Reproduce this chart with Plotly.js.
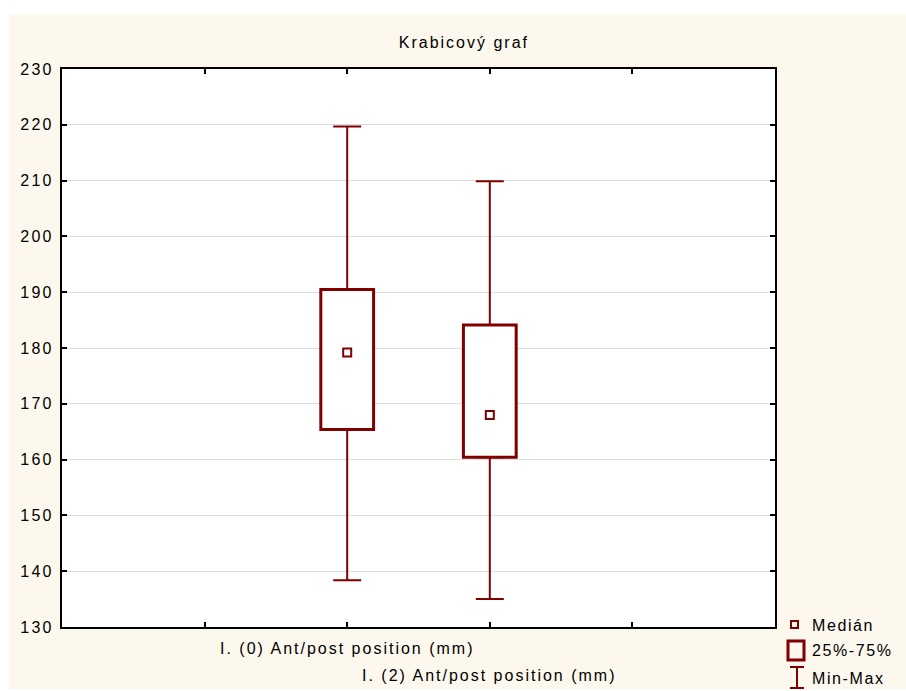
<!DOCTYPE html>
<html>
<head>
<meta charset="utf-8">
<script src="https://cdn.plot.ly/plotly-3.0.1.min.js"></script>
<style>
  html, body { margin: 0; padding: 0; background: #ffffff; }
  #wrap { position: relative; width: 906px; height: 691px; }
  #frame { position: absolute; left: 9px; top: 14px; width: 897px; height: 675px; background: #fdf8ee; }
  #chart { position: absolute; left: 0; top: 0; width: 906px; height: 691px; }
  #chart .ytick text { letter-spacing: 2.3px; }
  #chart .gtitle { letter-spacing: 2px; }
  #chart .annotation[data-index="0"] text,
  #chart .annotation[data-index="1"] text,
  #chart .annotation[data-index="2"] text { letter-spacing: 1.6px; }
  #chart .annotation[data-index="3"] text,
  #chart .annotation[data-index="4"] text { letter-spacing: 2px; }
</style>
</head>
<body>
<div id="wrap">
  <div id="frame"></div>
  <div id="chart"></div>
</div>
<script>
// Box plot summary per variable
const categories = ["I. (0) Ant/post position (mm)", "I. (2) Ant/post position (mm)"];
const positions  = [1, 2];
const minVals    = [138.4, 135.0];
const q1Vals     = [165.4, 160.4];
const medianVals = [179.2, 168.0];
const q3Vals     = [190.5, 184.1];
const maxVals    = [219.7, 209.9];

const yTicks = [130, 140, 150, 160, 170, 180, 190, 200, 210, 220, 230];
const legendLabels = ["Medián", "25%-75%", "Min-Max"];

const boxColor = "#800000";
const fontFamily = "Liberation Sans, Arial, sans-serif";

const traces = [
  // interquartile box
  {
    type: "bar",
    x: positions,
    base: q1Vals,
    y: q3Vals.map((v, i) => v - q1Vals[i]),
    width: 0.37,
    marker: { color: "#ffffff", line: { color: boxColor, width: 3 } },
    showlegend: false,
    hoverinfo: "skip"
  },
  // upper whisker: Q3 -> max
  {
    type: "scatter",
    mode: "markers",
    x: positions,
    y: q3Vals,
    marker: { size: 1, color: "rgba(0,0,0,0)" },
    error_y: {
      type: "data", symmetric: false,
      array: maxVals.map((v, i) => v - q3Vals[i]),
      arrayminus: [0, 0],
      width: 14, thickness: 2, color: boxColor
    },
    showlegend: false,
    hoverinfo: "skip"
  },
  // lower whisker: Q1 -> min
  {
    type: "scatter",
    mode: "markers",
    x: positions,
    y: q1Vals,
    marker: { size: 1, color: "rgba(0,0,0,0)" },
    error_y: {
      type: "data", symmetric: false,
      array: [0, 0],
      arrayminus: q1Vals.map((v, i) => v - minVals[i]),
      width: 14, thickness: 2, color: boxColor
    },
    showlegend: false,
    hoverinfo: "skip"
  },
  // median point
  {
    type: "scatter",
    mode: "markers",
    x: positions,
    y: medianVals,
    marker: { symbol: "square-open", size: 8, color: boxColor, line: { width: 2, color: boxColor } },
    showlegend: false,
    hoverinfo: "skip"
  }
];

// Legend icons, positioned in pixels from the plot area's bottom-right corner
const px = (x0, x1, y0, y1, extra) => Object.assign({
  xref: "paper", yref: "paper", xanchor: 1, yanchor: 0,
  xsizemode: "pixel", ysizemode: "pixel",
  x0: x0, x1: x1, y0: y0, y1: y1
}, extra);

const shapes = [
  px(16, 23, -1, 6, { type: "rect", line: { color: boxColor, width: 2 }, fillcolor: "rgba(0,0,0,0)" }),
  px(13, 29, -33, -14, { type: "rect", line: { color: boxColor, width: 3 }, fillcolor: "rgba(0,0,0,0)" }),
  px(22, 22, -61, -40, { type: "line", line: { color: boxColor, width: 2 } }),
  px(15, 29, -40, -40, { type: "line", line: { color: boxColor, width: 2 } }),
  px(15, 29, -61, -61, { type: "line", line: { color: boxColor, width: 2 } })
];

const legendShift = [2, -23, -51];

const annotations = [];
legendLabels.forEach((t, i) => annotations.push({
  text: t, xref: "paper", yref: "paper", x: 1, y: 0,
  xanchor: "left", yanchor: "middle", align: "left",
  xshift: 35, yshift: legendShift[i],
  showarrow: false, font: { family: fontFamily, size: 16, color: "#000" }
}));
const catShift = [-11, -38];
categories.forEach((c, i) => annotations.push({
  text: c, xref: "x", yref: "paper", x: positions[i], y: 0,
  xanchor: "center", yanchor: "top", yshift: catShift[i],
  showarrow: false, font: { family: fontFamily, size: 16, color: "#000" }
}));

const layout = {
  width: 906, height: 691,
  margin: { l: 62, r: 131, t: 69, b: 64 },
  paper_bgcolor: "rgba(0,0,0,0)",
  plot_bgcolor: "#ffffff",
  font: { family: fontFamily, size: 16, color: "#000" },
  title: {
    text: "Krabicový graf",
    xref: "container", yref: "container",
    x: 0.512, y: 0.938, xanchor: "center", yanchor: "middle",
    font: { family: fontFamily, size: 16, color: "#000" }
  },
  xaxis: {
    range: [-1, 4],
    tickvals: [0, 1, 2, 3],
    showticklabels: false,
    ticks: "inside", ticklen: 5, tickwidth: 2, tickcolor: "#000",
    showgrid: false, zeroline: false,
    showline: true, linecolor: "#000", linewidth: 2, mirror: "allticks"
  },
  yaxis: {
    range: [130, 230],
    tickvals: yTicks,
    ticks: "inside", ticklen: 5, tickwidth: 2, tickcolor: "#000",
    ticklabelstandoff: 3,
    tickfont: { family: fontFamily, size: 16, color: "#000" },
    showgrid: true, gridcolor: "#dcdcdc", gridwidth: 1,
    zeroline: false,
    showline: true, linecolor: "#000", linewidth: 2, mirror: "allticks"
  },
  shapes: shapes,
  annotations: annotations,
  showlegend: false
};

Plotly.newPlot("chart", traces, layout, { staticPlot: true, displayModeBar: false });
</script>
</body>
</html>
